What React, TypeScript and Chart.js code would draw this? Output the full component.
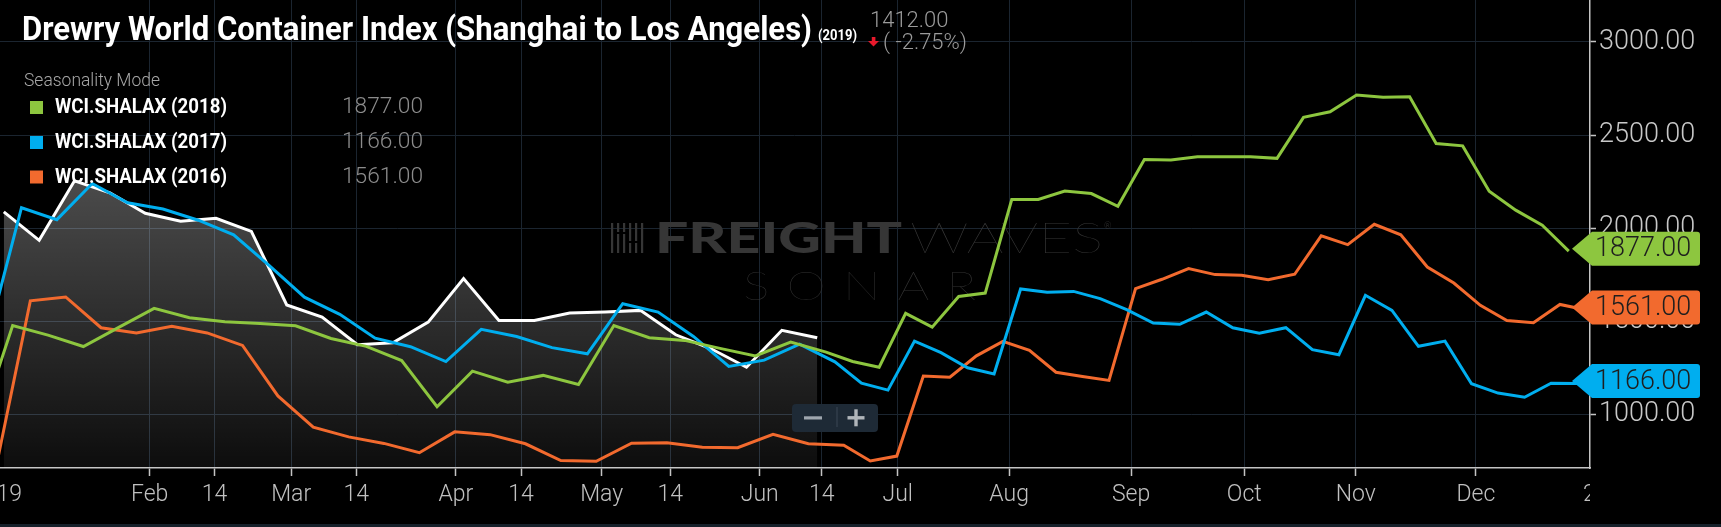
import React, { useEffect, useRef } from 'react';
import { Chart, registerables } from 'chart.js';

Chart.register(...registerables);

// ---------------- data ----------------
const SEASON_YEAR = 2019;

// first weekly (Thursday) publication date shown for each series
const start2019 = '2019-01-03';
const start2018 = '2017-12-28';
const start2017 = '2016-12-29';
const start2016 = '2015-12-31';

const wci2019 = [
  2088, 1935, 2255, 2190, 2080, 2038, 2053, 1983, 1588, 1523, 1375, 1385, 1496,
  1730, 1505, 1505, 1545, 1550, 1559, 1428, 1353, 1254, 1452, 1412,
];

const wci2018 = [
  900,
  1478, 1426, 1365, 1468,
  1570, 1520, 1498, 1488,
  1476, 1408, 1366, 1290, 1042,
  1233, 1174, 1210, 1161,
  1478, 1412, 1398, 1355, 1315,
  1389, 1335, 1285, 1254,
  1543, 1469, 1634, 1652,
  2154, 2154, 2200, 2186, 2118,
  2369, 2366, 2383, 2383,
  2383, 2375, 2595, 2625,
  2715, 2703, 2706, 2455, 2442,
  2199, 2097, 2016, 1877,
];

const wci2017 = [
  1378,
  2110, 2046, 2240, 2137,
  2103, 2043, 1965, 1800,
  1630, 1538, 1410, 1364, 1284,
  1457, 1419, 1359, 1326,
  1595, 1550, 1419, 1258,
  1292, 1378, 1283, 1168, 1131,
  1394, 1332, 1251, 1218,
  1674, 1657, 1661, 1622, 1563,
  1491, 1484, 1550, 1466,
  1437, 1466, 1348, 1321,
  1640, 1559, 1366, 1394, 1165,
  1115, 1093, 1168, 1166,
];

const wci2016 = [
  688,
  1610, 1631, 1466, 1438,
  1474, 1438, 1371, 1100,
  932, 880, 845, 795, 907,
  892, 843, 753, 749,
  846, 848, 824, 822,
  894, 843, 835, 751, 777,
  1207, 1200, 1315, 1393,
  1344, 1227, 1204, 1183,
  1676, 1726, 1783, 1751, 1747,
  1724, 1753, 1959, 1912,
  2021, 1965, 1792, 1706,
  1586, 1505, 1493, 1591, 1561,
];

const legendNames = ['WCI.SHALAX (2018)', 'WCI.SHALAX (2017)', 'WCI.SHALAX (2016)'];
const legendColors = ['#8dc63f', '#00aeef', '#f26a2e'];

const tickDates = [
  '2019-01-01', '2019-02-01', '2019-02-14', '2019-03-01', '2019-03-14', '2019-04-01',
  '2019-04-14', '2019-05-01', '2019-05-14', '2019-06-01', '2019-06-14', '2019-07-01',
  '2019-08-01', '2019-09-01', '2019-10-01', '2019-11-01', '2019-12-01', '2020-01-01',
];
const tickLabels = [
  '2019', 'Feb', '14', 'Mar', '14', 'Apr', '14', 'May', '14', 'Jun', '14', 'Jul',
  'Aug', 'Sep', 'Oct', 'Nov', 'Dec', '2020',
];
const yTickValues = [1000, 1500, 2000, 2500, 3000];

const TITLE = 'Drewry World Container Index (Shanghai to Los Angeles)';
const TITLE_YEAR = '(2019)';

// ---------------- build ordinal (seasonal) axis ----------------
const DAY = 86400000;
function seasonalTimes(startISO: string, count: number, year: number): number[] {
  const base = Date.parse(startISO + 'T12:00:00Z');
  const out: number[] = [];
  for (let i = 0; i < count; i++) {
    const d = new Date(base + i * 7 * DAY);
    out.push(Date.UTC(d.getUTCFullYear() + (SEASON_YEAR - year), d.getUTCMonth(), d.getUTCDate(), 12));
  }
  return out;
}

const t2019 = seasonalTimes(start2019, wci2019.length, 2019);
const t2018 = seasonalTimes(start2018, wci2018.length, 2018);
const t2017 = seasonalTimes(start2017, wci2017.length, 2017);
const t2016 = seasonalTimes(start2016, wci2016.length, 2016);

const UNION = Array.from(new Set([...t2019, ...t2018, ...t2017, ...t2016])).sort((a, b) => a - b);
const IDX0 = UNION.indexOf(t2019[0]);

function toPoints(times: number[], values: number[]) {
  return times.map((t, i) => ({ x: UNION.indexOf(t) - IDX0, y: values[i] }));
}

// ordinal position of a calendar date: interpolated between neighbouring points,
// extrapolated with the nearest interval outside the data
function tickPos(iso: string): number {
  const T = Date.parse(iso + 'T00:00:00Z');
  const n = UNION.length;
  const j = UNION.findIndex((u) => u >= T);
  if (j === -1) {
    const step = UNION[n - 1] - UNION[n - 2];
    return n - 1 - IDX0 + (T - UNION[n - 1]) / step;
  }
  if (j === 0) {
    const step = UNION[1] - UNION[0];
    return -IDX0 + (T - UNION[0]) / step;
  }
  return j - 1 - IDX0 + (T - UNION[j - 1]) / (UNION[j] - UNION[j - 1]);
}

const X_TICKS = tickDates.map((d, i) => ({ value: tickPos(d), name: tickLabels[i] }));

// view window (zoom state of the original)
const X_MIN = -0.43;
const X_MAX = 179.4;
const Y_MIN = 713;
const Y_MAX = 3225;

const GRID = '#1b2530';
const AXIS = '#c4c4c4';

// ---------------- drawing helpers ----------------
function fitText(
  ctx: CanvasRenderingContext2D,
  s: string,
  x: number,
  y: number,
  font: string,
  color: string,
  width?: number
) {
  ctx.save();
  ctx.font = font;
  ctx.fillStyle = color;
  ctx.textAlign = 'left';
  ctx.textBaseline = 'alphabetic';
  if (width) {
    const w = ctx.measureText(s).width;
    ctx.translate(x, y);
    ctx.scale(width / w, 1);
    ctx.fillText(s, 0, 0);
  } else {
    ctx.fillText(s, x, y);
  }
  ctx.restore();
}

function roundRect(ctx: CanvasRenderingContext2D, x: number, y: number, w: number, h: number, r: number) {
  ctx.beginPath();
  ctx.moveTo(x + r, y);
  ctx.lineTo(x + w - r, y);
  ctx.quadraticCurveTo(x + w, y, x + w, y + r);
  ctx.lineTo(x + w, y + h - r);
  ctx.quadraticCurveTo(x + w, y + h, x + w - r, y + h);
  ctx.lineTo(x + r, y + h);
  ctx.quadraticCurveTo(x, y + h, x, y + h - r);
  ctx.lineTo(x, y + r);
  ctx.quadraticCurveTo(x, y, x + r, y);
  ctx.closePath();
}

function drawWatermark(ctx: CanvasRenderingContext2D) {
  ctx.save();
  const col = '#363636';
  ctx.fillStyle = col;
  // small bar icon
  for (let k = 0; k < 6; k++) {
    const bx = 611 + k * 6;
    ctx.fillRect(bx, 223, 2.2, 30);
  }
  ctx.fillStyle = '#000';
  ctx.fillRect(616, 232, 12, 2);
  ctx.fillRect(628, 241, 12, 2);
  fitText(ctx, 'FREIGHT', 655, 253, '900 42px Lato', col, 247);
  fitText(ctx, 'WAVES', 910, 253, '200 42px Lato', '#383838', 193);
  fitText(ctx, '®', 1104, 229, '300 9px Lato', '#383838');
  // SONAR with wide spacing
  ctx.font = '200 40px Lato';
  const letters = 'SONAR'.split('');
  const ws = letters.map((c) => ctx.measureText(c).width * 1.25);
  const total = 233;
  const gap = (total - ws.reduce((a, b) => a + b, 0)) / (letters.length - 1);
  let cx = 743;
  letters.forEach((c, i) => {
    ctx.save();
    ctx.translate(cx, 300);
    ctx.scale(1.25, 1);
    ctx.fillStyle = '#353535';
    ctx.fillText(c, 0, 0);
    ctx.restore();
    cx += ws[i] + gap;
  });
  ctx.restore();
}

const overlayPlugin = {
  id: 'overlay',
  beforeDraw(chart: any) {
    const ctx = chart.ctx as CanvasRenderingContext2D;
    ctx.save();
    ctx.fillStyle = '#000';
    ctx.fillRect(0, 0, chart.width, chart.height);
    ctx.restore();
  },
  beforeDatasetsDraw(chart: any) {
    drawWatermark(chart.ctx);
  },
  afterDraw(chart: any) {
    const ctx = chart.ctx as CanvasRenderingContext2D;
    const area = chart.chartArea;
    const xs = chart.scales.x;
    const ys = chart.scales.y;

    // edge x labels (partially cut, outside the zoom window)
    ctx.save();
    ctx.beginPath();
    ctx.rect(0, area.bottom + 1, area.right, chart.height - area.bottom);
    ctx.clip();
    ctx.font = '300 23px Roboto';
    ctx.fillStyle = '#c0c0c0';
    ctx.textAlign = 'center';
    ctx.textBaseline = 'middle';
    X_TICKS.forEach((t) => {
      if (t.value < X_MIN || t.value > X_MAX) {
        ctx.fillText(t.name, xs.getPixelForValue(t.value), area.bottom + 27);
      }
    });
    ctx.restore();

    // bottom strip
    ctx.save();
    ctx.fillStyle = '#16202a';
    ctx.fillRect(0, chart.height - 3, chart.width, 3);
    ctx.restore();

    // title
    fitText(ctx, TITLE, 22, 39.5, 'bold 33px Roboto', '#ffffff', 790);
    fitText(ctx, TITLE_YEAR, 818, 39.5, 'bold 14px Roboto', '#ffffff', 39);

    // last value / change
    const last = wci2019[wci2019.length - 1];
    const prev = wci2019[wci2019.length - 2];
    const chg = ((last - prev) / prev) * 100;
    fitText(ctx, last.toFixed(2), 870, 26.7, '300 22px Roboto', '#9b9b9b');
    ctx.save();
    ctx.fillStyle = '#e8192c';
    ctx.fillRect(871.8, 37, 3.6, 4.5);
    ctx.beginPath();
    ctx.moveTo(868, 41);
    ctx.lineTo(879, 41);
    ctx.lineTo(873.5, 46.5);
    ctx.closePath();
    ctx.fill();
    ctx.restore();
    fitText(ctx, '( ' + chg.toFixed(2) + '%)', 883, 48.5, '300 22px Roboto', '#9b9b9b');

    // legend
    fitText(ctx, 'Seasonality Mode', 24, 85.5, '300 18.5px Roboto', '#a8a8a8', 136);
    const finals = [wci2018, wci2017, wci2016].map((a) => a[a.length - 1]);
    const baselines = [113, 148, 182.5];
    legendNames.forEach((n, i) => {
      const b = baselines[i];
      ctx.save();
      ctx.fillStyle = legendColors[i];
      ctx.fillRect(30, b - 12, 13, 13);
      ctx.restore();
      fitText(ctx, n, 55, b, 'bold 21px Roboto', '#ffffff', 172);
      fitText(ctx, finals[i].toFixed(2), 342, b, '300 22px Roboto', '#8c8c8c', 81);
    });

    // zoom buttons
    ctx.save();
    ctx.fillStyle = '#1e2a36';
    roundRect(ctx, 792, 404, 86, 28, 4);
    ctx.fill();
    ctx.fillStyle = '#9ea6ae';
    ctx.fillRect(804, 416.3, 18, 3.2);
    ctx.fillStyle = '#3b4754';
    ctx.fillRect(836.5, 407, 1, 20);
    ctx.fillStyle = '#b0b5ba';
    ctx.fillRect(847.5, 416.1, 17, 3.4);
    ctx.fillRect(854.3, 409.3, 3.4, 17);
    ctx.restore();

    // value markers on the right axis
    const right = area.right;
    [wci2018, wci2016, wci2017].forEach((arr, k) => {
      const color = [legendColors[0], legendColors[2], legendColors[1]][k];
      const v = arr[arr.length - 1];
      const y = ys.getPixelForValue(v) - 2.5;
      const h = 34;
      const x0 = right + 2;
      const x1 = right + 110;
      const r = 3;
      ctx.save();
      ctx.fillStyle = color;
      ctx.beginPath();
      ctx.moveTo(right - 18, y);
      ctx.lineTo(x0, y - h / 2);
      ctx.lineTo(x1 - r, y - h / 2);
      ctx.quadraticCurveTo(x1, y - h / 2, x1, y - h / 2 + r);
      ctx.lineTo(x1, y + h / 2 - r);
      ctx.quadraticCurveTo(x1, y + h / 2, x1 - r, y + h / 2);
      ctx.lineTo(x0, y + h / 2);
      ctx.closePath();
      ctx.fill();
      ctx.font = '300 27px Roboto';
      ctx.fillStyle = '#1e1e1e';
      ctx.textAlign = 'left';
      ctx.textBaseline = 'middle';
      ctx.fillText(v.toFixed(2), right + 5, y + 1);
      ctx.restore();
    });
  },
};

export default function App() {
  const ref = useRef<HTMLCanvasElement | null>(null);

  useEffect(() => {
    document.body.style.margin = '0';
    document.body.style.background = '#000';
    const canvas = ref.current;
    if (!canvas) return;

    const line = (data: any[], color: string, order: number) => ({
      data,
      borderColor: color,
      borderWidth: 3,
      pointRadius: 0,
      fill: false,
      tension: 0,
      order,
    });

    const chart = new Chart(canvas, {
      type: 'line',
      data: {
        datasets: [
          {
            label: 'WCI.SHALAX (2019)',
            data: toPoints(t2019, wci2019),
            borderColor: '#ffffff',
            borderWidth: 3,
            pointRadius: 0,
            tension: 0,
            order: 4,
            fill: 'start',
            backgroundColor: (c: any) => {
              const ch = c.chart;
              const a = ch.chartArea;
              if (!a) return 'rgba(255,255,255,0.2)';
              const g = ch.ctx.createLinearGradient(0, ch.scales.y.getPixelForValue(2300), 0, a.bottom);
              g.addColorStop(0, 'rgba(255,255,255,0.30)');
              g.addColorStop(1, 'rgba(255,255,255,0.05)');
              return g;
            },
          } as any,
          line(toPoints(t2016, wci2016), legendColors[2], 3),
          line(toPoints(t2017, wci2017), legendColors[1], 2),
          line(toPoints(t2018, wci2018), legendColors[0], 1),
        ],
      },
      options: {
        animation: false,
        responsive: false,
        devicePixelRatio: 1,
        events: [],
        layout: { padding: 0 },
        plugins: {
          legend: { display: false },
          tooltip: { enabled: false },
          title: { display: false },
        },
        scales: {
          x: {
            type: 'linear',
            min: X_MIN,
            max: X_MAX,
            afterBuildTicks: (s: any) => {
              s.ticks = X_TICKS.filter((t) => t.value >= X_MIN && t.value <= X_MAX).map((t) => ({
                value: t.value,
                name: t.name,
              }));
            },
            afterFit: (s: any) => {
              s.height = 59;
              s.paddingLeft = 0;
              s.paddingRight = 0;
            },
            ticks: {
              autoSkip: false,
              maxRotation: 0,
              minRotation: 0,
              color: '#c0c0c0',
              padding: 5,
              font: { family: 'Roboto', size: 23, weight: '300' as any },
              callback: (_v: any, i: number, ticks: any[]) => ticks[i].name,
            },
            grid: { color: GRID, lineWidth: 1, tickColor: AXIS, tickLength: 8, tickWidth: 1.5 },
            border: { color: AXIS, width: 1.5 },
          },
          y: {
            type: 'linear',
            position: 'right',
            min: Y_MIN,
            max: Y_MAX,
            afterBuildTicks: (s: any) => {
              s.ticks = yTickValues.map((v) => ({ value: v }));
            },
            afterFit: (s: any) => {
              s.width = 131;
              s.paddingTop = 0;
              s.paddingBottom = 0;
            },
            ticks: {
              color: '#c8c8c8',
              padding: 3,
              font: { family: 'Roboto', size: 27, weight: '300' as any },
              callback: (v: any) => Number(v).toFixed(2),
            },
            grid: { color: GRID, lineWidth: 1, tickColor: AXIS, tickLength: 6, tickWidth: 1.5 },
            border: { color: AXIS, width: 1.5 },
          },
        },
      },
      plugins: [overlayPlugin as any],
    });

    return () => {
      chart.destroy();
    };
  }, []);

  return (
    <div style={{ position: 'fixed', left: 0, top: 0, width: 1721, height: 527, background: '#000' }}>
      <canvas ref={ref} width={1721} height={527} style={{ display: 'block', width: 1721, height: 527 }} />
    </div>
  );
}
